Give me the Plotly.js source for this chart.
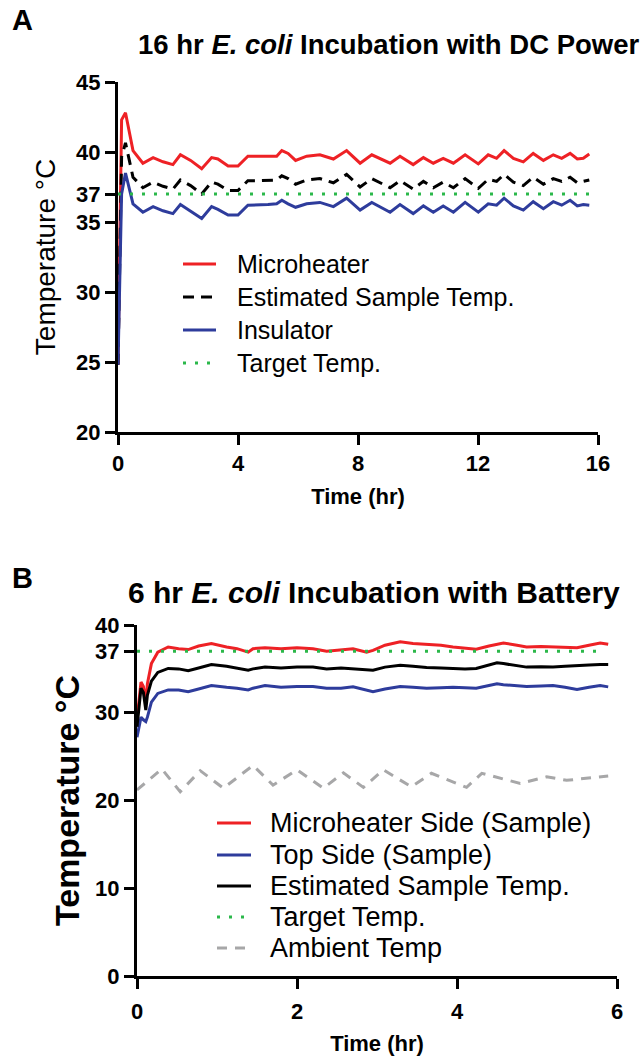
<!DOCTYPE html>
<html>
<head>
<meta charset="utf-8">
<script src="https://cdn.plot.ly/plotly-3.0.1.min.js"></script>
<style>html,body{margin:0;padding:0;background:#fff;}#chart{width:641px;height:1059px;}</style>
</head>
<body>
<div id="chart"></div>
<script>
// ---------- Panel A: 16 hr E. coli incubation with DC power ----------
const timeA = [0, 0.12, 0.25, 0.5, 0.83, 1.17, 1.5, 1.83, 2.08, 2.42, 2.79, 3.12, 3.33, 3.67, 4.0, 4.33, 4.67, 5.0, 5.29, 5.46, 5.67, 5.92, 6.29, 6.73, 7.18, 7.62, 8.07, 8.46, 9.07, 9.4, 9.84, 10.18, 10.51, 10.84, 11.18, 11.57, 12.01, 12.34, 12.62, 12.87, 13.18, 13.51, 13.84, 14.18, 14.51, 14.79, 15.07, 15.31, 15.51, 15.71];
const microheaterA = [24.8, 42.3, 42.8, 40.1, 39.2, 39.6, 39.3, 39.1, 39.8, 39.4, 38.8, 39.6, 39.5, 39.0, 39.0, 39.7, 39.7, 39.7, 39.7, 40.1, 39.9, 39.4, 39.7, 39.8, 39.5, 40.1, 39.2, 39.8, 39.2, 39.7, 39.1, 39.6, 39.2, 39.55, 39.2, 39.8, 39.15, 39.8, 39.55, 40.1, 39.55, 39.3, 39.9, 39.4, 39.8, 39.55, 39.9, 39.5, 39.55, 39.85];
const estimatedA = [24.8, 39.65, 40.65, 38.2, 37.45, 37.85, 37.55, 37.35, 38.0, 37.6, 37.0, 37.85, 37.7, 37.25, 37.25, 37.95, 37.95, 37.95, 38.0, 38.3, 38.1, 37.7, 38.0, 38.1, 37.8, 38.4, 37.5, 38.1, 37.45, 37.95, 37.35, 37.9, 37.45, 37.85, 37.45, 38.1, 37.4, 38.05, 37.9, 38.4, 37.85, 37.6, 38.2, 37.7, 38.1, 37.9, 38.2, 37.8, 37.9, 38.0];
const insulatorA = [24.8, 37.0, 38.5, 36.3, 35.7, 36.1, 35.8, 35.6, 36.25, 35.8, 35.25, 36.1, 35.9, 35.5, 35.5, 36.2, 36.2, 36.25, 36.3, 36.55, 36.3, 36.05, 36.3, 36.4, 36.1, 36.7, 35.85, 36.4, 35.7, 36.25, 35.6, 36.15, 35.7, 36.15, 35.7, 36.4, 35.7, 36.3, 36.2, 36.7, 36.15, 35.85, 36.45, 35.95, 36.45, 36.2, 36.55, 36.15, 36.25, 36.2];
const targetTimeA = [0, 15.71];
const targetA = [37, 37];
const yTicksA = [20, 25, 30, 35, 37, 40, 45];
const xTicksA = [0, 4, 8, 12, 16];

// ---------- Panel B: 6 hr E. coli incubation with battery ----------
const timeB = [0, 0.05, 0.08, 0.11, 0.13, 0.18, 0.26, 0.39, 0.52, 0.64, 0.77, 0.93, 1.12, 1.25, 1.39, 1.45, 1.6, 1.8, 2.0, 2.2, 2.37, 2.55, 2.7, 2.87, 2.95, 3.1, 3.29, 3.45, 3.62, 3.8, 3.95, 4.1, 4.24, 4.4, 4.5, 4.58, 4.75, 4.87, 5.05, 5.2, 5.35, 5.5, 5.65, 5.79, 5.89];
const microheaterSideB = [29.2, 33.5, 33.0, 31.2, 33.3, 35.6, 36.9, 37.5, 37.3, 37.2, 37.6, 37.9, 37.5, 37.3, 36.9, 37.3, 37.4, 37.3, 37.4, 37.3, 37.0, 37.2, 37.3, 36.9, 37.1, 37.7, 38.1, 37.9, 37.8, 37.7, 37.5, 37.4, 37.25, 37.6, 37.8, 37.95, 37.7, 37.5, 37.55, 37.5, 37.45, 37.4, 37.7, 37.95, 37.8];
const topSideB = [27.2, 29.5, 29.2, 29.0, 29.5, 31.2, 32.2, 32.6, 32.6, 32.4, 32.7, 33.1, 32.9, 32.8, 32.6, 32.8, 33.1, 32.9, 33.0, 33.0, 32.8, 32.8, 32.95, 32.6, 32.4, 32.7, 33.0, 32.9, 32.8, 32.85, 32.9, 32.85, 32.8, 33.1, 33.3, 33.2, 33.05, 33.0, 33.05, 33.1, 32.9, 32.65, 32.9, 33.1, 32.95];
const estimatedB = [28.4, 32.8, 32.3, 30.3, 32.0, 33.6, 34.6, 35.05, 35.0, 34.8, 35.1, 35.5, 35.3, 35.1, 34.85, 35.0, 35.2, 35.1, 35.2, 35.2, 35.0, 35.1, 35.0, 34.9, 34.85, 35.2, 35.4, 35.3, 35.15, 35.1, 35.05, 35.0, 35.05, 35.4, 35.7, 35.6, 35.35, 35.2, 35.25, 35.2, 35.3, 35.4, 35.45, 35.5, 35.5];
const targetTimeB = [0, 5.85];
const targetB = [37, 37];
const ambientTimeB = [0, 0.31, 0.54, 0.79, 1.08, 1.45, 1.7, 2.0, 2.33, 2.58, 2.83, 3.08, 3.43, 3.68, 4.12, 4.31, 4.79, 5.12, 5.37, 5.66, 5.89];
const ambientB = [21.2, 23.6, 21.0, 23.4, 21.4, 24.0, 21.75, 23.5, 21.4, 23.15, 21.5, 23.5, 21.55, 23.1, 21.5, 23.1, 21.95, 22.7, 22.3, 22.6, 22.8];
const yTicksB = [0, 10, 20, 30, 37, 40];
const xTicksB = [0, 2, 4, 6];

const RED = '#ee2125', BLUE = '#2e3c9c', GREEN = '#2bb84a', GRAY = '#a7a7a8', BLACK = '#000000';
const FONT = 'Liberation Sans, Arial, sans-serif';

const traces = [
  {x: timeA, y: microheaterA, name: 'Microheater', mode: 'lines', line: {color: RED, width: 3}, xaxis: 'x', yaxis: 'y'},
  {x: timeA, y: estimatedA, name: 'Estimated Sample Temp.', mode: 'lines', line: {color: BLACK, width: 3, dash: '11px,7px'}, xaxis: 'x', yaxis: 'y'},
  {x: timeA, y: insulatorA, name: 'Insulator', mode: 'lines', line: {color: BLUE, width: 3}, xaxis: 'x', yaxis: 'y'},
  {x: targetTimeA, y: targetA, name: 'Target Temp.', mode: 'lines', line: {color: GREEN, width: 3, dash: '3px,9px'}, xaxis: 'x', yaxis: 'y'},

  {x: timeB, y: microheaterSideB, name: 'Microheater Side (Sample)', mode: 'lines', line: {color: RED, width: 3}, xaxis: 'x2', yaxis: 'y2'},
  {x: timeB, y: topSideB, name: 'Top Side (Sample)', mode: 'lines', line: {color: BLUE, width: 3}, xaxis: 'x2', yaxis: 'y2'},
  {x: timeB, y: estimatedB, name: 'Estimated Sample Temp.', mode: 'lines', line: {color: BLACK, width: 3}, xaxis: 'x2', yaxis: 'y2'},
  {x: targetTimeB, y: targetB, name: 'Target Temp.', mode: 'lines', line: {color: GREEN, width: 3, dash: '3px,9px'}, xaxis: 'x2', yaxis: 'y2'},
  {x: ambientTimeB, y: ambientB, name: 'Ambient Temp', mode: 'lines', line: {color: GRAY, width: 3, dash: '10px,8px'}, xaxis: 'x2', yaxis: 'y2'}
];
traces.forEach(t => t.showlegend = false);

const W = 641, H = 1059;
const px = v => v / W;           // horizontal pixel -> paper
const py = v => 1 - v / H;       // vertical pixel (from top) -> paper
function axX(x0, x1){ return [px(x0), px(x1)]; }
function axY(yTop, yBot){ return [py(yBot), py(yTop)]; }

const axisCommon = {
  showline: true, linecolor: '#000', linewidth: 3, ticks: 'outside', ticklen: 10, tickwidth: 3, tickcolor: '#000',
  showgrid: false, zeroline: false, tickmode: 'array', fixedrange: true,
  tickfont: {family: FONT, size: 22, color: '#000', weight: 'bold'}
};

// Legend drawn as line samples + text (positions are layout, labels come from the traces)
const shapes = [], annotations = [];
function addLegend(traceList, lineX0, lineX1, textX, rowsY, fontSize){
  traceList.forEach((t, i) => {
    const yy = py(rowsY[i]);
    shapes.push({type: 'line', xref: 'paper', yref: 'paper', x0: px(lineX0), x1: px(lineX1), y0: yy, y1: yy,
      line: {color: t.line.color, width: 3, dash: t.line.dash || 'solid'}});
    annotations.push({text: t.name, xref: 'paper', yref: 'paper', x: px(textX), y: yy, xanchor: 'left', yanchor: 'middle',
      showarrow: false, font: {family: FONT, size: fontSize, color: '#000'}});
  });
}
addLegend(traces.slice(0, 4), 183, 216, 235, [264, 297, 330, 363], 25);
addLegend(traces.slice(4), 217, 251, 268, [823, 855, 886, 917, 948], 27);

annotations.push(
  {text: '<b>A</b>', x: px(10), y: py(20), xref: 'paper', yref: 'paper', xanchor: 'left', yanchor: 'middle', showarrow: false, font: {family: FONT, size: 29}},
  {text: '<b>16 hr <i>E. coli</i> Incubation with DC Power</b>', x: px(388), y: py(45), xref: 'paper', yref: 'paper', xanchor: 'center', yanchor: 'middle', showarrow: false, font: {family: FONT, size: 27.5}},
  {text: '<b>B</b>', x: px(10), y: py(578), xref: 'paper', yref: 'paper', xanchor: 'left', yanchor: 'middle', showarrow: false, font: {family: FONT, size: 29}},
  {text: '<b>6 hr <i>E. coli</i> Incubation with Battery</b>', x: px(374), y: py(592), xref: 'paper', yref: 'paper', xanchor: 'center', yanchor: 'middle', showarrow: false, font: {family: FONT, size: 30}}
);

const layout = {
  width: W, height: H,
  margin: {l: 0, r: 0, t: 0, b: 0},
  paper_bgcolor: '#fff', plot_bgcolor: 'rgba(0,0,0,0)',
  font: {family: FONT, color: '#000'},
  showlegend: false,
  xaxis: Object.assign({}, axisCommon, {domain: axX(118, 598), range: [0, 16], tickvals: xTicksA, ticktext: xTicksA.map(String), anchor: 'y', ticklabelstandoff: 0,
    title: {text: 'Time (hr)', font: {family: FONT, size: 22, weight: 'bold'}, standoff: 14}}),
  yaxis: Object.assign({}, axisCommon, {domain: axY(82, 432), range: [20, 45], tickvals: yTicksA, ticktext: yTicksA.map(String), anchor: 'x',
    title: {text: 'Temperature °C', font: {family: FONT, size: 28}, standoff: 13}}),
  xaxis2: Object.assign({}, axisCommon, {domain: axX(137, 617), range: [0, 6], tickvals: xTicksB, ticktext: xTicksB.map(String), anchor: 'y2', ticklabelstandoff: 4,
    title: {text: 'Time (hr)', font: {family: FONT, size: 22, weight: 'bold'}, standoff: 13}}),
  yaxis2: Object.assign({}, axisCommon, {domain: axY(625, 976), range: [0, 40], tickvals: yTicksB, ticktext: yTicksB.map(String), anchor: 'x2',
    title: {text: 'Temperature °C', font: {family: FONT, size: 34, weight: 'bold'}, standoff: 6}}),
  shapes: shapes,
  annotations: annotations
};

Plotly.newPlot('chart', traces, layout, {displayModeBar: false, staticPlot: true});
</script>
</body>
</html>
